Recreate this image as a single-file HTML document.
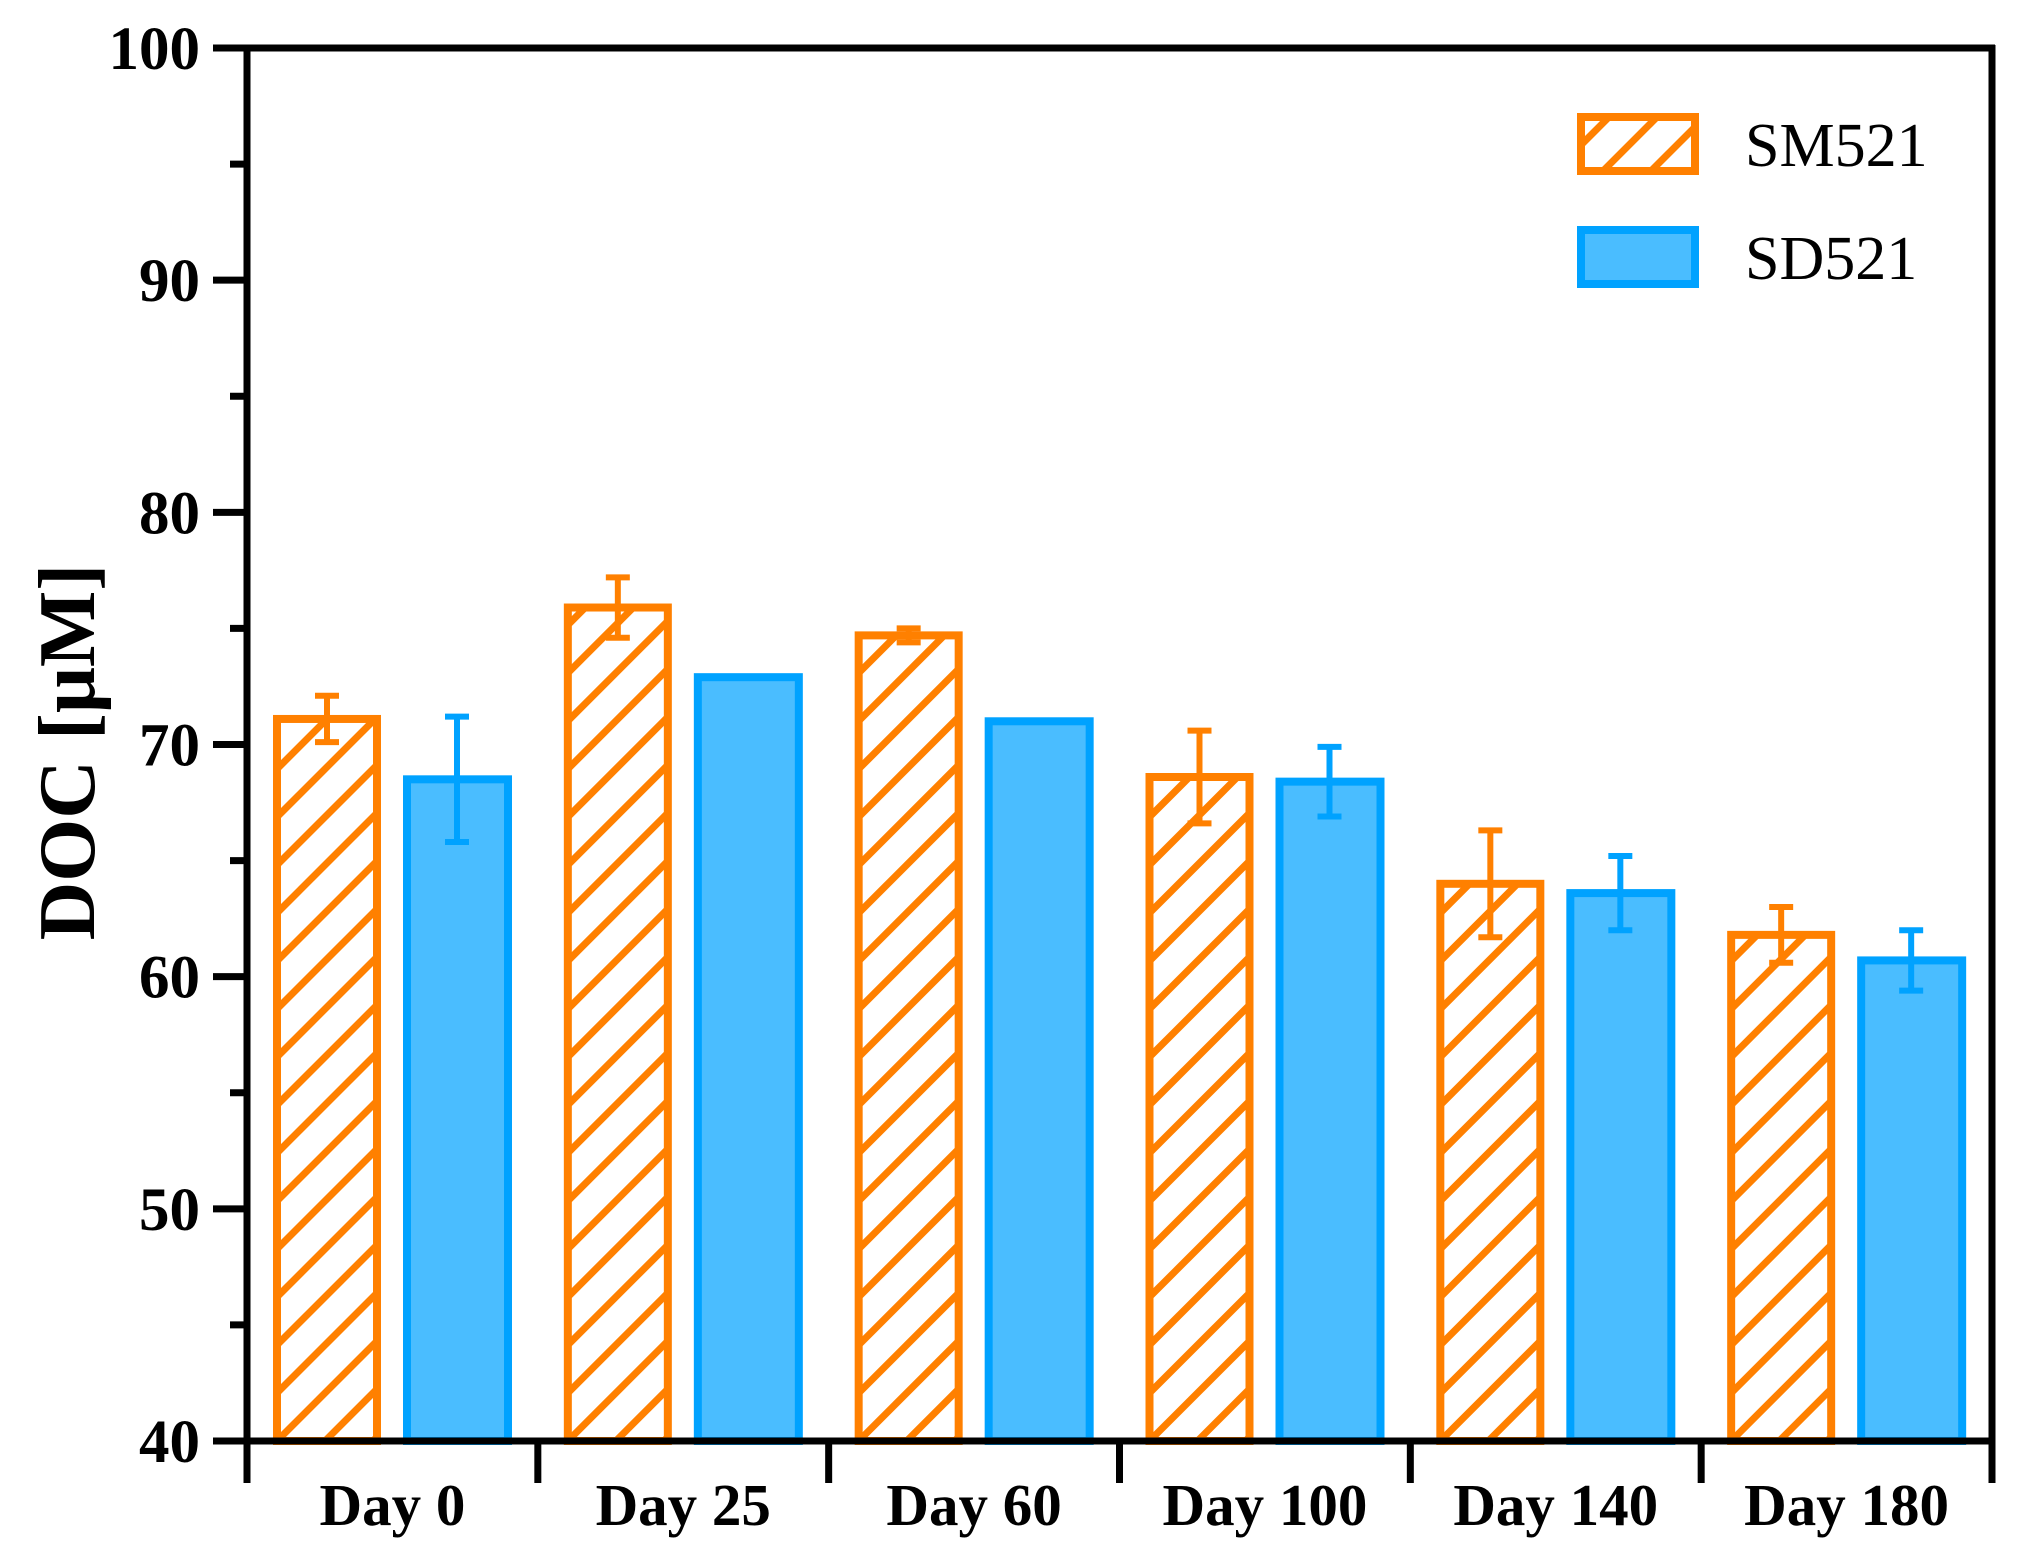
<!DOCTYPE html>
<html><head><meta charset="utf-8"><style>html,body{margin:0;padding:0;background:#fff;overflow:hidden;width:2019px;height:1563px;position:relative}svg{display:block;position:absolute;left:0;top:0}</style></head>
<body>
<svg id="chart" width="2019" height="1563" viewBox="0 0 2019 1563" xmlns="http://www.w3.org/2000/svg" font-family="'Liberation Serif', serif">
<defs></defs>
<g id="plot"></g>
</svg>
<script>
const categories = ["Day 0","Day 25","Day 60","Day 100","Day 140","Day 180"];
const smValues = [71.1, 75.9, 74.7, 68.6, 64.0, 61.8];
const smErrors = [1.0, 1.3, 0.3, 2.0, 2.3, 1.2];
const sdValues = [68.5, 72.9, 71.0, 68.4, 63.6, 60.7];
const sdErrors = [2.7, 0, 0, 1.5, 1.6, 1.3];
const yTicks = [40, 50, 60, 70, 80, 90, 100];
const seriesNames = ["SM521", "SD521"];

const NS = "http://www.w3.org/2000/svg";
const X0 = 247, X1 = 1992, Y0 = 1441, Y1 = 48, YMIN = 40, YMAX = 100;
const catW = (X1 - X0) / categories.length;
const y = v => Y0 - (v - YMIN) / (YMAX - YMIN) * (Y0 - Y1);
const xCat = i => X0 + i * catW;
const plot = document.getElementById('plot');
function mk(tag, attrs, parent) {
  const e = document.createElementNS(NS, tag);
  for (const k in attrs) e.setAttribute(k, attrs[k]);
  (parent || plot).appendChild(e);
  return e;
}
const ORANGE = "#FF8000", BLUE = "#00A2FF", BLUEF = "#4ABDFF";

function hatchRect(x, top, w, h, g) {
  const clipId = 'c' + Math.round(x) + '_' + Math.round(top);
  const cp = mk('clipPath', {id: clipId}, document.querySelector('defs'));
  mk('rect', {x: x, y: top, width: w, height: h}, cp);
  const hg = mk('g', {'clip-path': 'url(#' + clipId + ')'}, g);
  const bottom = top + h;
  let yy = Y0 - 48 * Math.floor((Y0 - (bottom + w)) / 48);
  while (yy > bottom + w) yy -= 48;
  for (; yy > top; yy -= 48) {
    mk('line', {x1: x, y1: yy, x2: x + w, y2: yy - w, stroke: ORANGE, 'stroke-width': 7}, hg);
  }
}

categories.forEach((c, i) => {
  const g = mk('g', {});
  
  
  const sx = xCat(i) + 30, bw = 100;
  const st = y(smValues[i]);
  hatchRect(sx, st, bw, Y0 - st, g);
  const sr = mk('rect', {x: sx, y: st, width: bw, height: Y0 - st, fill: 'none', stroke: ORANGE, 'stroke-width': 8}, g);
  
  
  const dx = xCat(i) + 160;
  const dt = y(sdValues[i]);
  const dr = mk('rect', {x: dx, y: dt, width: 101, height: Y0 - dt, fill: BLUEF, stroke: BLUE, 'stroke-width': 8}, g);
  
  
  [[sx + bw / 2, smValues[i], smErrors[i], ORANGE], [dx + 50, sdValues[i], sdErrors[i], BLUE]].forEach(([cx, v, e, col], k) => {
    if (e <= 0) return;
    const eb = mk('path', {d: `M${cx},${y(v + e)}V${y(v - e)}M${cx - 12},${y(v + e)}H${cx + 12}M${cx - 12},${y(v - e)}H${cx + 12}`, stroke: col, 'stroke-width': 6, fill: 'none'}, g);
    
    
  });
  const t = mk('text', {x: xCat(i) + catW / 2, y: 1525, 'text-anchor': 'middle', 'font-size': 59, 'font-weight': 'bold'}, plot);
  t.textContent = c;
  
  
});

const ax = mk('path', {d: `M${X0},${Y1 - 3}V${Y0}M${X0 - 3},${Y0}H${X1 + 3}M${X0 - 3},${Y1}H${X1 + 3}M${X1},${Y1 - 3}V${Y0}`, stroke: '#000', 'stroke-width': 7, fill: 'none'});


yTicks.forEach(v => {
  const tk = mk('line', {x1: 213, x2: X0, y1: y(v), y2: y(v), stroke: '#000', 'stroke-width': 7});
  
  
  const tl = mk('text', {x: 200, y: y(v) + 21, 'text-anchor': 'end', 'font-size': 61, 'font-weight': 'bold'});
  tl.textContent = v;
  
  
  if (v < YMAX) {
    const mt = mk('line', {x1: 230, x2: X0, y1: y(v + 5), y2: y(v + 5), stroke: '#000', 'stroke-width': 7});
    
    
  }
});
for (let i = 0; i <= categories.length; i++) {
  const xt = mk('line', {x1: xCat(i), x2: xCat(i), y1: Y0, y2: 1483, stroke: '#000', 'stroke-width': 7});
  
  
}
const yt = mk('text', {x: 0, y: 0, transform: 'translate(94,752) rotate(-90)', 'text-anchor': 'middle', 'font-size': 81, 'font-weight': 'bold'});
yt.textContent = 'DOC [μM]';



const lg = mk('g', {});


hatchRect(1581, 117, 114, 54, lg);
mk('rect', {x: 1581, y: 117, width: 114, height: 54, fill: 'none', stroke: ORANGE, 'stroke-width': 8}, lg);
mk('rect', {x: 1581, y: 230, width: 114, height: 54, fill: BLUEF, stroke: BLUE, 'stroke-width': 8}, lg);
seriesNames.forEach((n, k) => {
  const lt = mk('text', {x: 1745, y: 166 + k * 113, 'font-size': 62}, lg);
  lt.textContent = n;
  
  
});
</script>
</body></html>
